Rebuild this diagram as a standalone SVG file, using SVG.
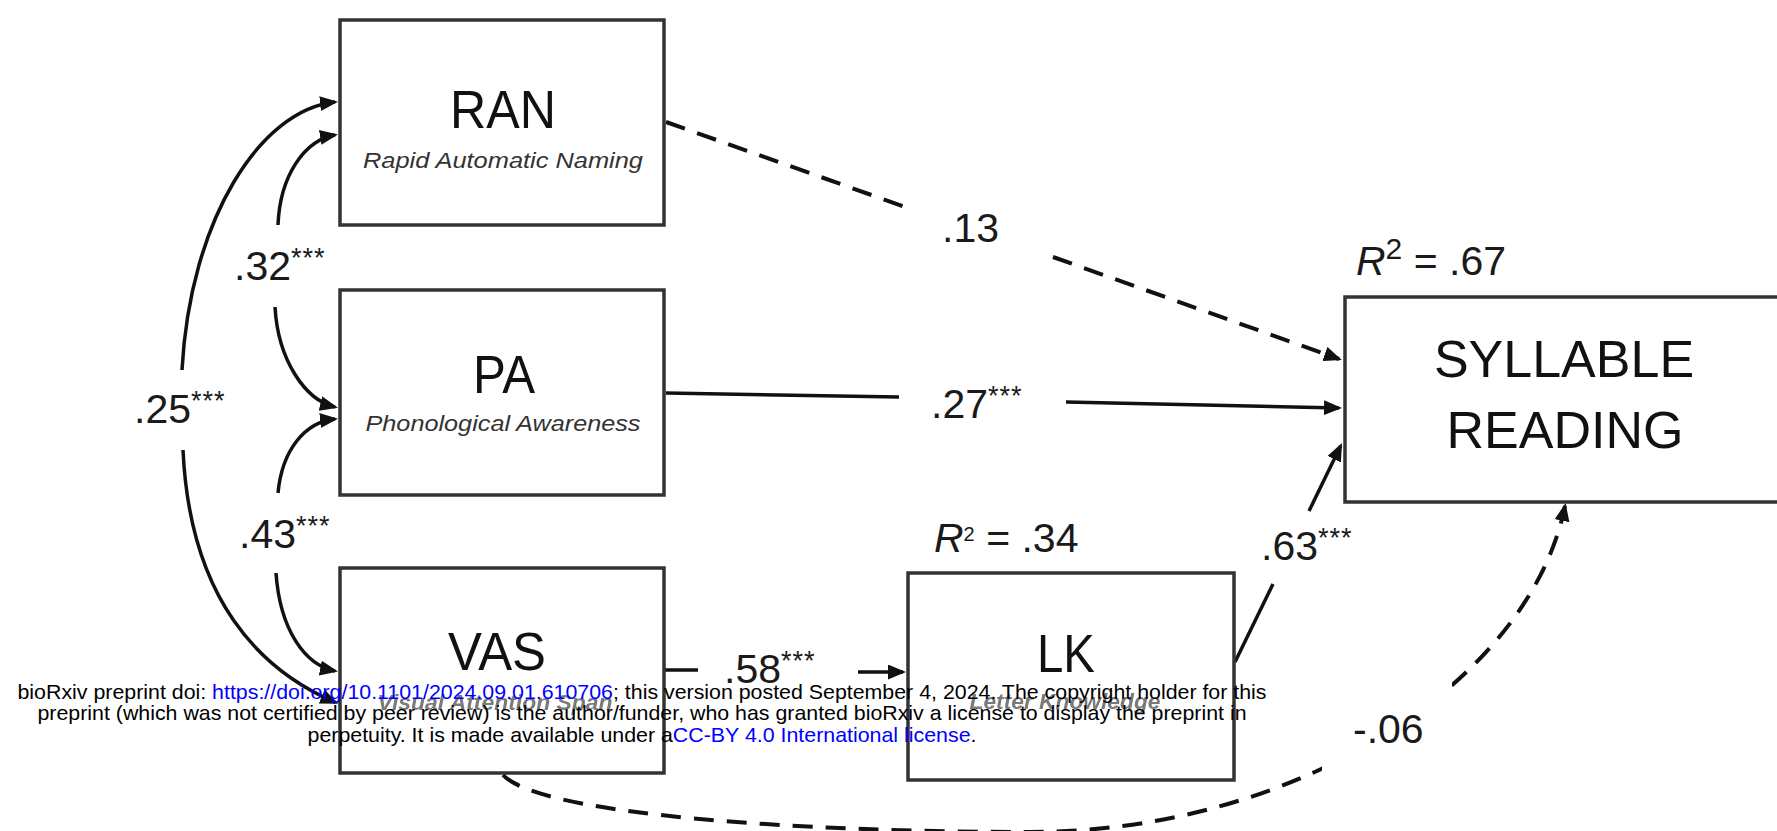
<svg xmlns="http://www.w3.org/2000/svg" width="1777" height="831" viewBox="0 0 1777 831">
<style>
.box{fill:#fff;stroke:#333;stroke-width:3.5}
.title{font-family:"Liberation Sans",Arial,sans-serif;font-size:54px;fill:#111;text-anchor:middle}
.big{font-family:"Liberation Sans",Arial,sans-serif;font-size:52px;fill:#111;text-anchor:middle}
.sub{font-family:"Liberation Sans",Arial,sans-serif;font-style:italic;font-size:22px;fill:#333;text-anchor:middle}
.sub2{font-family:"Liberation Sans",Arial,sans-serif;font-style:italic;font-weight:bold;font-size:22px;fill:#7a7a7a;text-anchor:middle}
.lbl{font-family:"Liberation Sans",Arial,sans-serif;font-size:41px;fill:#1a1a1a}
.st{font-size:27px;letter-spacing:1px}
.ln{fill:none;stroke:#111;stroke-width:3.5}
.dash{stroke-dasharray:20 13;stroke-width:4}
.wm{font-family:"Liberation Sans",Arial,sans-serif;font-size:21px;fill:#000;text-anchor:middle}
.link{fill:#0000ff}
</style>
<defs>
<marker id="ah" markerUnits="userSpaceOnUse" markerWidth="18" markerHeight="15" refX="15" refY="7.5" orient="auto" viewBox="0 0 18 15"><path d="M0,0 L18,7.5 L0,15 Z" fill="#111"/></marker>
<mask id="gap06" maskUnits="userSpaceOnUse" x="0" y="0" width="1777" height="831"><rect x="0" y="0" width="1777" height="831" fill="#fff"/><rect x="1322" y="650" width="130" height="140" fill="#000"/></mask>
<filter id="soft"><feGaussianBlur stdDeviation="0.7"/></filter>
</defs>
<rect x="0" y="0" width="1777" height="831" fill="#fff"/>

<g id="connectors">
<path class="ln dash" d="M666,122 L908,208"/>
<path class="ln dash" d="M1053,257 L1339,359" marker-end="url(#ah)"/>
<path class="ln" d="M666,393 L899,397"/>
<path class="ln" d="M1066,402 L1339,408" marker-end="url(#ah)"/>
<path class="ln" d="M664,670 L698,670"/>
<path class="ln" d="M858,672 L903,672" marker-end="url(#ah)"/>
<path class="ln" d="M1235,662 L1273,584"/>
<path class="ln" d="M1309,511 L1340.7,445.7" marker-end="url(#ah)"/>
<path class="ln dash" mask="url(#gap06)" d="M503,775 C540,815 800,832 1030,832 C1300,832 1530,680 1565,506" marker-end="url(#ah)"/>
<path class="ln" d="M278,225 C280,175 305,140 335,135" marker-end="url(#ah)"/>
<path class="ln" d="M275,307 C278,360 305,400 335,407" marker-end="url(#ah)"/>
<path class="ln" d="M278,493 C282,450 305,422 335,419" marker-end="url(#ah)"/>
<path class="ln" d="M276,573 C280,630 305,665 335,671" marker-end="url(#ah)"/>
<path class="ln" d="M182,370 C190,220 260,110 335,102" marker-end="url(#ah)"/>
<path class="ln" d="M183,450 C190,600 260,670 335.5,702.5" marker-end="url(#ah)"/>
</g>

<g id="labels">
<text class="lbl" x="942" y="242">.13</text>
<text class="lbl" x="931" y="418">.27<tspan class="st" dy="-13">***</tspan></text>
<text class="lbl" x="234" y="280">.32<tspan class="st" dy="-13">***</tspan></text>
<text class="lbl" x="134" y="423">.25<tspan class="st" dy="-13">***</tspan></text>
<text class="lbl" x="239" y="548">.43<tspan class="st" dy="-13">***</tspan></text>
<text class="lbl" x="724" y="683">.58<tspan class="st" dy="-13">***</tspan></text>
<text class="lbl" x="1261" y="560">.63<tspan class="st" dy="-13">***</tspan></text>
<text class="lbl" x="1353" y="743">-.06</text>
</g>

<g id="node-ran">
<rect class="box" x="340" y="20" width="324" height="205"/>
<text class="title" x="503" y="128" textLength="106" lengthAdjust="spacingAndGlyphs">RAN</text>
<text class="sub" x="503" y="168" textLength="280" lengthAdjust="spacingAndGlyphs">Rapid Automatic Naming</text>
</g>

<g id="node-pa">
<rect class="box" x="340" y="290" width="324" height="205"/>
<text class="title" x="504" y="393" textLength="62" lengthAdjust="spacingAndGlyphs">PA</text>
<text class="sub" x="503" y="431" textLength="275" lengthAdjust="spacingAndGlyphs">Phonological Awareness</text>
</g>

<g id="node-vas">
<rect class="box" x="340" y="568" width="324" height="205"/>
<text class="title" x="497" y="670" textLength="98" lengthAdjust="spacingAndGlyphs">VAS</text>
<text class="sub2" x="495" y="710" textLength="235" lengthAdjust="spacingAndGlyphs" filter="url(#soft)">Visual Attention Span</text>
</g>

<g id="node-lk">
<rect class="box" x="908" y="573" width="326" height="207"/>
<text class="title" x="1066" y="672" textLength="58" lengthAdjust="spacingAndGlyphs">LK</text>
<text class="sub2" x="1065" y="709" textLength="191" lengthAdjust="spacingAndGlyphs" filter="url(#soft)">Letter Knowledge</text>
<text class="lbl" x="934" y="552" font-size="31"><tspan font-style="italic">R</tspan><tspan font-size="20" dy="-11">2</tspan><tspan dy="11"> = .34</tspan></text>
</g>

<g id="node-syllable">
<rect class="box" x="1345" y="297" width="500" height="205"/>
<text class="big" x="1564" y="377">SYLLABLE</text>
<text class="big" x="1565" y="448">READING</text>
<text class="lbl" x="1356" y="275" font-size="52"><tspan font-style="italic">R</tspan><tspan font-size="30" dy="-16">2</tspan><tspan dy="16"> = .67</tspan></text>
</g>

<g id="watermark">
<text class="wm" x="642" y="699" textLength="1249" lengthAdjust="spacingAndGlyphs">bioRxiv preprint doi: <tspan class="link">https://doi.org/10.1101/2024.09.01.610706</tspan>; this version posted September 4, 2024. The copyright holder for this</text>
<text class="wm" x="642" y="720" textLength="1209" lengthAdjust="spacingAndGlyphs">preprint (which was not certified by peer review) is the author/funder, who has granted bioRxiv a license to display the preprint in</text>
<text class="wm" x="642" y="742" textLength="669" lengthAdjust="spacingAndGlyphs">perpetuity. It is made available under a<tspan class="link">CC-BY 4.0 International license</tspan>.</text>
</g>
</svg>
